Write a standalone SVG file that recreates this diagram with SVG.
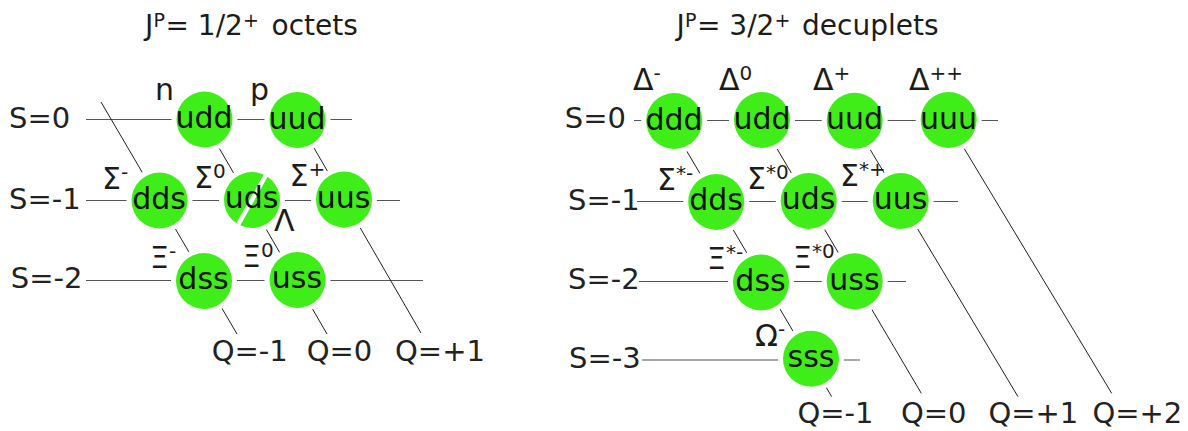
<svg xmlns="http://www.w3.org/2000/svg" width="1188" height="431" viewBox="0 0 1188 431">
<style>
text{font-family:"DejaVu Sans","Liberation Sans",sans-serif;font-size:30px;fill:#1c1c1c}
.sup{font-size:20px}
.ttl{font-size:28px}
.ttl .sup{font-size:19px}
.ax{font-size:29px;fill:#222}
.node circle{fill:#3fee18;stroke:#fff;stroke-width:10;paint-order:stroke}
.node text.q{text-anchor:middle;fill:#111}
#connectors line{stroke:#222;stroke-width:1}
#connectors line.h{stroke:#555;stroke-width:1.1}
</style>
<rect width="1188" height="431" fill="#fff"/>
<g id="titles">
<text class="ttl" x="145" y="35">J<tspan class="sup" x="153.5" y="26.5">P</tspan><tspan x="165.5" y="35">= 1/2</tspan><tspan class="sup" x="243" y="26.5">+</tspan><tspan x="271.5" y="35">octets</tspan></text>
<text class="ttl" x="676.5" y="35">J<tspan class="sup" x="685" y="26.5">P</tspan><tspan x="697" y="35">= 3/2</tspan><tspan class="sup" x="774.5" y="26.5">+</tspan><tspan x="802" y="35">decuplets</tspan></text>
</g>
<g id="connectors">
<line class="h" x1="86" y1="119.5" x2="352" y2="119.5"/>
<line class="h" x1="86" y1="200.5" x2="400" y2="200.5"/>
<line class="h" x1="86" y1="280.5" x2="423" y2="280.5"/>
<line x1="101" y1="102" x2="237" y2="334"/>
<line x1="204" y1="122" x2="327" y2="334"/>
<line x1="299" y1="122" x2="421" y2="333"/>
<line class="h" x1="634" y1="120.5" x2="998" y2="120.5"/>
<line class="h" x1="637" y1="201.5" x2="958" y2="201.5"/>
<line class="h" x1="639" y1="281.5" x2="906" y2="281.5"/>
<line class="h" x1="642" y1="360" x2="860" y2="360"/>
<line x1="674.3" y1="130" x2="831.7" y2="396.7"/>
<line x1="763" y1="125" x2="921.3" y2="393.3"/>
<line x1="855.5" y1="125" x2="1018" y2="396.7"/>
<line x1="950" y1="125" x2="1111.7" y2="393.3"/>
</g>
<g id="axis-labels">
<text class="ax" x="9" y="128">S=0</text>
<text class="ax" x="9" y="209">S=-1</text>
<text class="ax" x="10.8" y="288">S=-2</text>
<text class="ax" x="211.7" y="361">Q=-1</text>
<text class="ax" x="306.7" y="361">Q=0</text>
<text class="ax" x="395" y="361">Q=+1</text>
<text class="ax" x="564.8" y="128">S=0</text>
<text class="ax" x="568" y="210">S=-1</text>
<text class="ax" x="568" y="289">S=-2</text>
<text class="ax" x="569" y="368">S=-3</text>
<text class="ax" x="797.4" y="423">Q=-1</text>
<text class="ax" x="900.9" y="423">Q=0</text>
<text class="ax" x="988.4" y="423">Q=+1</text>
<text class="ax" x="1092.4" y="423">Q=+2</text>
</g>
<g id="n-udd" class="node"><circle cx="204.5" cy="119.5" r="28"/><text class="q" x="204" y="128">udd</text><text x="155" y="100">n</text></g>
<g id="n-uud" class="node"><circle cx="297.5" cy="120" r="28"/><text class="q" x="297" y="128.5">uud</text><text x="250" y="100">p</text></g>
<g id="n-dds" class="node"><circle cx="159.5" cy="200.5" r="28"/><text class="q" x="159" y="208.5">dds</text><text x="102" y="189">Σ<tspan class="sup" dy="-10">-</tspan></text></g>
<g id="n-uds" class="node"><circle cx="252" cy="200" r="28"/><line x1="270" y1="168" x2="234" y2="232" stroke="#fff" stroke-width="4.5"/><text class="q" x="251.5" y="208">uds</text><text x="194" y="188">Σ<tspan class="sup" dy="-10">0</tspan></text><text x="274" y="231">Λ</text></g>
<g id="n-uus" class="node"><circle cx="344" cy="199.5" r="28"/><text class="q" x="343.5" y="208">uus</text><text x="289.5" y="186">Σ<tspan class="sup" dy="-10">+</tspan></text></g>
<g id="n-dss" class="node"><circle cx="204" cy="281" r="28"/><text class="q" x="203.5" y="289">dss</text><text x="150" y="268">Ξ<tspan class="sup" dy="-10">-</tspan></text></g>
<g id="n-uss" class="node"><circle cx="297.5" cy="280" r="28"/><text class="q" x="297" y="288">uss</text><text x="242" y="267">Ξ<tspan class="sup" dy="-10">0</tspan></text></g>
<g id="d-ddd" class="node"><circle cx="674.2" cy="121" r="28"/><text class="q" x="674" y="129.5">ddd</text><text x="633" y="90">Δ<tspan class="sup" dy="-10">-</tspan></text></g>
<g id="d-udd" class="node"><circle cx="762" cy="120" r="28"/><text class="q" x="762" y="128.5">udd</text><text x="719" y="90">Δ<tspan class="sup" dy="-10">0</tspan></text></g>
<g id="d-uud" class="node"><circle cx="854.7" cy="120.8" r="28"/><text class="q" x="854.5" y="129">uud</text><text x="813" y="90">Δ<tspan class="sup" dy="-10">+</tspan></text></g>
<g id="d-uuu" class="node"><circle cx="948.7" cy="120" r="28"/><text class="q" x="948.5" y="128.5">uuu</text><text x="909" y="90">Δ<tspan class="sup" dy="-10">++</tspan></text></g>
<g id="d-dds" class="node"><circle cx="716.2" cy="202" r="28"/><text class="q" x="716" y="210">dds</text><text x="657" y="190">Σ<tspan class="sup" dy="-10">*-</tspan></text></g>
<g id="d-uds" class="node"><circle cx="808.7" cy="201" r="28"/><text class="q" x="808.5" y="209">uds</text><text x="747" y="189">Σ<tspan class="sup" dy="-10">*0</tspan></text></g>
<g id="d-uus" class="node"><circle cx="900.7" cy="201" r="28"/><text class="q" x="900.5" y="209">uus</text><text x="840" y="186">Σ<tspan class="sup" dy="-10">*+</tspan></text></g>
<g id="d-dss" class="node"><circle cx="761" cy="282.5" r="28"/><text class="q" x="760.5" y="290.5">dss</text><text x="707" y="269">Ξ<tspan class="sup" dy="-10">*-</tspan></text></g>
<g id="d-uss" class="node"><circle cx="854.7" cy="281.3" r="28"/><text class="q" x="854.5" y="289.5">uss</text><text x="793" y="268">Ξ<tspan class="sup" dy="-10">*0</tspan></text></g>
<g id="d-sss" class="node"><circle cx="811" cy="358.7" r="28"/><text class="q" x="811" y="367">sss</text><text x="755" y="346">Ω<tspan class="sup" dy="-10">-</tspan></text></g>
</svg>
